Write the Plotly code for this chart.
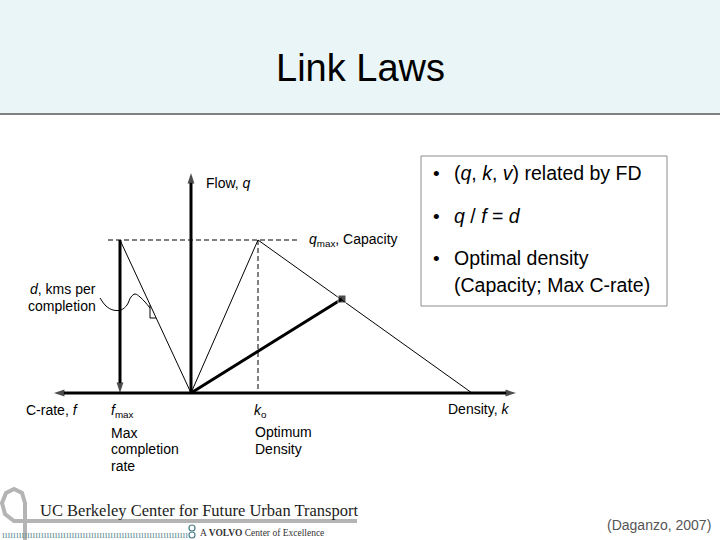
import plotly.graph_objects as go

# ---------------- diagram values (diagram units; origin = axes crossing) ----------------
k_axis_end = 325        # density axis (to the right)
f_axis_end = -137       # C-rate axis (to the left)
q_axis_top = 220        # flow axis (up)
q_max = 153             # capacity
k_o = 67                # optimum density
k_jam = 281             # jam density
f_max = -71             # max completion rate (C-rate side)
op_k = 151              # operating point density
op_q = 94               # operating point flow
dash_from = -83         # capacity dashed line, left end
dash_to = 106           # capacity dashed line, right end

fd_k = [0, k_o, k_jam]
fd_q = [0, q_max, 0]

bullet_lines = [
    "(<i>q</i>, <i>k</i>, <i>v</i>) related by FD",
    "<i>q</i> / <i>f</i> = <i>d</i>",
    "Optimal density",
]
bullet_cont = "(Capacity; Max C-rate)"

# ---------------- page mapping helpers (for decorations only) ----------------
OX, OY = 191, 393
W, H = 720, 540


def P(px, py):
    return px - OX, OY - py


FONT = "Liberation Sans, Arial, sans-serif"
SERIF = "Liberation Serif, Times New Roman, serif"

fig = go.Figure()


def line(xs, ys, width=1, dash="solid", arrow=False, color="black"):
    if arrow:
        kw = dict(mode="lines+markers",
                  marker=dict(symbol=["circle"] * (len(xs) - 1) + ["arrow"],
                              size=[0] * (len(xs) - 1) + [11],
                              angleref="previous", color=color,
                              line=dict(width=0)))
    else:
        kw = dict(mode="lines")
    fig.add_trace(go.Scatter(x=xs, y=ys, line=dict(color=color, width=width, dash=dash),
                             hoverinfo="skip", showlegend=False, **kw))


# dashed guides
line([dash_from, dash_to], [q_max, q_max], width=1, dash="5px,3px")
line([k_o, k_o], [q_max, 0], width=1, dash="5px,3px")
# fundamental diagram
line(fd_k, fd_q, width=1)
# d slope line
line([f_max, 0], [q_max, 0], width=1)
# axes
line([0, 0], [0, q_axis_top], width=3, arrow=True)
line([0, k_axis_end], [0, 0], width=3, arrow=True)
line([0, f_axis_end], [0, 0], width=3, arrow=True)
# f_max vertical
line([f_max, f_max], [q_max, 0], width=3, arrow=True)
# operating point ray
fig.add_trace(go.Scatter(x=[0, op_k], y=[0, op_q], mode="lines+markers",
                         line=dict(color="black", width=3),
                         marker=dict(symbol="square", size=[0, 8], color="black"),
                         hoverinfo="skip", showlegend=False))

# leader curve for d label
curve_px = [(100, 298), (106, 306), (113, 310), (121, 310), (127, 305), (131, 297),
            (135, 294), (140, 297), (145, 302), (150, 308)]
cx, cy = zip(*[P(a, b) for a, b in curve_px])
fig.add_trace(go.Scatter(x=cx, y=cy, mode="lines", line=dict(color="black", width=1, shape="spline"),
                         hoverinfo="skip", showlegend=False))
# slope triangle mark
sx, sy = zip(*[P(150, 305), P(150, 318), P(156, 318)])
fig.add_trace(go.Scatter(x=sx, y=sy, mode="lines", line=dict(color="black", width=1),
                         hoverinfo="skip", showlegend=False))

shapes = []
# header band
x0, y0 = P(0, 0)
x1, y1 = P(W, 113)
shapes.append(dict(type="rect", xref="x", yref="y", x0=x0, y0=y0, x1=x1, y1=y1,
                   fillcolor="#e9f5f7", line=dict(width=0), layer="below"))
a, b = P(0, 114)
c, d = P(W, 114)
shapes.append(dict(type="line", xref="x", yref="y", x0=a, y0=b, x1=c, y1=d,
                   line=dict(color="#808080", width=2)))
# text box
a, b = P(421, 156)
c, d = P(667, 306)
shapes.append(dict(type="rect", xref="x", yref="y", x0=a, y0=b, x1=c, y1=d,
                   line=dict(color="#8c8c8c", width=1), fillcolor="rgba(0,0,0,0)"))
# logo: gray loop and bar
loop = [(27, 521), (22, 521), (14, 521), (5, 514), (2, 503), (6, 493), (14, 489), (22, 493),
        (25, 503), (25, 515), (25, 540)]
pts = [P(u, v) for u, v in loop]
path = "M" + " L".join(f"{u},{v}" for u, v in pts)
shapes.append(dict(type="path", xref="x", yref="y", path=path,
                   line=dict(color="#b4b4b4", width=4)))
a, b = P(25, 521)
c, d = P(357, 521)
shapes.append(dict(type="line", xref="x", yref="y", x0=a, y0=b, x1=c, y1=d,
                   line=dict(color="#b4b4b4", width=4)))
# small circles of logo
for cyy in (528, 535):
    a, b = P(189, cyy - 3)
    c, d = P(195, cyy + 3)
    shapes.append(dict(type="circle", xref="x", yref="y", x0=a, y0=b, x1=c, y1=d,
                       line=dict(color="#4a7f86", width=1.2)))

ann = []


def text(px, py, t, size=14, xa="left", ya="middle", color="black", family=FONT):
    x, y = P(px, py)
    ann.append(dict(x=x, y=y, xref="x", yref="y", text=t, showarrow=False,
                    xanchor=xa, yanchor=ya, font=dict(family=family, size=size, color=color)))


text(360, 68, "Link Laws", size=38, xa="center")
text(204, 183, "Flow, <i>q</i>")
text(307, 240, "<i>q</i><sub>max</sub>, Capacity")
text(98, 289, "<i>d</i>, kms per", xa="right")
text(98, 306, "completion", xa="right")
text(81, 410, "C-rate, <i>f</i>", xa="right")
text(OX + f_max + 2, 411, "<i>f</i><sub>max</sub>", xa="center")
text(109, 433, "Max")
text(109, 449, "completion")
text(109, 466, "rate")
text(OX + k_o + 2, 411, "<i>k</i><sub>o</sub>", xa="center")
text(253, 432, "Optimum")
text(253, 449, "Density")
text(511, 409, "Density, <i>k</i>", xa="right")

by = [173, 216, 258]
for yy, t in zip(by, bullet_lines):
    text(431, yy, "•", size=19)
    text(452, yy, t, size=19.5)
text(452, 285, bullet_cont, size=19.5)

text(713, 525, "(Daganzo, 2007)", size=14, xa="right", color="#555555")
text(38, 510, "UC Berkeley Center for Future Urban Transport", size=16.5, color="#222222", family=SERIF)
text(0, 534, "ı" * 67, size=10, color="#5f8f95", family=SERIF)
text(198, 533, "A <b>VOLVO</b> Center of Excellence", size=9.5, color="#333333", family=SERIF)

fig.update_layout(
    width=W, height=H, autosize=False,
    margin=dict(l=0, r=0, t=0, b=0),
    paper_bgcolor="white", plot_bgcolor="white",
    shapes=shapes, annotations=ann,
    xaxis=dict(range=[-OX, W - OX], visible=False, fixedrange=True),
    yaxis=dict(range=[OY - H, OY], visible=False, fixedrange=True),
)

fig.write_html("out.html", config={"displayModeBar": False, "staticPlot": True},
               post_script="document.body.style.margin='0';")
